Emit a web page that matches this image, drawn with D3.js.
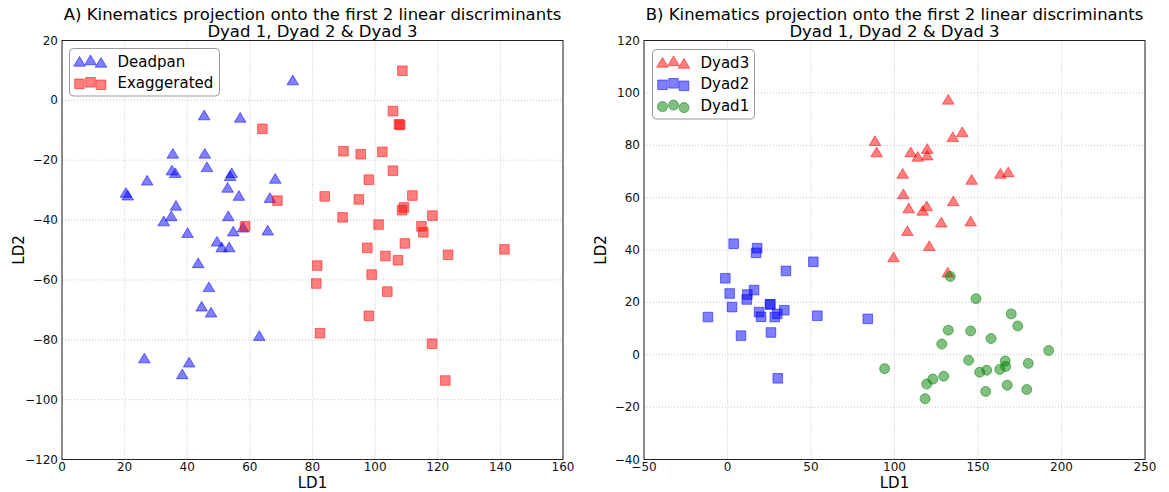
<!DOCTYPE html>
<html>
<head>
<meta charset="utf-8">
<script src="https://cdn.jsdelivr.net/npm/d3@7"></script>
<style>
  body { margin: 0; background: #fff; }
  svg { display: block; font-family: "DejaVu Sans", sans-serif; }
</style>
</head>
<body>
<svg id="chart" width="1169" height="492"></svg>
<script>
// Panel A: [LD1, LD2]
const deadpan = [
  [73.7, 6.6], [45.4, -5.1], [56.9, -5.9], [35.4, -17.9], [45.6, -17.9],
  [35.1, -23.5], [36.2, -24.4], [46.3, -22.4], [27.2, -26.9], [54.2, -24.4],
  [53.7, -25.4], [68.1, -26.3], [20.4, -31.0], [21.0, -31.9], [52.9, -29.3],
  [56.5, -32.0], [66.4, -32.7], [36.4, -35.3], [34.9, -38.8], [32.5, -40.5],
  [53.1, -38.8], [57.8, -42.6], [65.7, -43.6], [40.1, -44.4], [54.7, -43.9],
  [49.5, -47.3], [51.0, -49.2], [53.4, -49.2], [43.5, -54.5], [46.9, -62.5],
  [44.6, -69.0], [47.6, -71.0], [63.0, -78.8], [26.3, -86.3], [40.6, -87.7],
  [38.4, -91.6]
];
const exaggerated = [
  [108.7, 9.9], [105.7, -3.6], [107.6, -8.0], [108.0, -8.2], [89.9, -17.0],
  [95.4, -18.0], [102.3, -17.2], [105.7, -23.5], [98.0, -26.5], [83.9, -32.1],
  [94.8, -33.1], [111.9, -31.8], [109.2, -35.8], [108.6, -36.7], [118.3, -38.5],
  [89.6, -39.1], [101.1, -41.5], [114.8, -42.1], [115.4, -44.1], [64.0, -9.5],
  [68.8, -33.5], [58.5, -42.1], [109.5, -47.8], [97.5, -49.3], [103.3, -52.0],
  [107.3, -53.4], [123.3, -51.6], [141.3, -49.8], [81.5, -55.2], [98.9, -58.2],
  [81.2, -61.2], [103.9, -63.9], [98.0, -72.0], [82.4, -77.8], [118.2, -81.3],
  [122.4, -93.6]
];

// Panel B: [LD1, LD2]
const dyad3 = [
  [88.3, 81.5], [89.3, 77.2], [132.2, 97.3], [140.6, 84.9], [134.9, 83.0],
  [109.7, 77.2], [113.9, 75.5], [119.6, 78.5], [119.6, 76.0], [104.9, 69.0],
  [163.4, 69.0], [168.1, 69.6], [146.2, 66.7], [105.3, 61.2], [135.2, 58.5],
  [108.5, 55.8], [119.3, 56.6], [116.9, 54.9], [128.0, 50.4], [145.6, 50.8],
  [107.7, 47.1], [120.8, 41.4], [99.4, 37.1], [131.9, 31.3]
];
const dyad2 = [
  [3.7, 42.4], [17.1, 38.9], [17.8, 40.7], [51.4, 35.5], [35.0, 32.0],
  [-1.3, 29.2], [1.3, 23.4], [15.9, 24.7], [11.9, 23.0], [11.5, 21.1],
  [25.4, 19.2], [25.7, 19.3], [2.7, 18.2], [18.9, 16.3], [20.1, 14.5],
  [34.0, 17.0], [29.8, 15.6], [28.3, 14.4], [53.8, 14.9], [84.0, 13.7],
  [-11.7, 14.4], [8.1, 7.3], [26.0, 8.5], [30.1, -9.0]
];
const dyad1 = [
  [133.4, 29.9], [148.8, 21.4], [169.9, 15.6], [173.8, 11.0], [132.2, 9.4],
  [145.6, 9.1], [157.8, 6.2], [128.3, 4.1], [192.3, 1.6], [144.4, -2.1],
  [166.3, -2.4], [166.6, -4.5], [163.0, -5.6], [180.1, -3.3], [151.0, -6.7],
  [155.2, -5.9], [129.5, -8.2], [122.9, -9.3], [119.3, -11.2], [167.5, -11.6],
  [179.2, -13.3], [154.6, -14.0], [118.3, -16.8], [94.1, -5.3]
];

const xTicksA = [0, 20, 40, 60, 80, 100, 120, 140, 160];
const yTicksA = [20, 0, -20, -40, -60, -80, -100, -120];
const xTicksB = [-50, 0, 50, 100, 150, 200, 250];
const yTicksB = [120, 100, 80, 60, 40, 20, 0, -20, -40];

const svg = d3.select('#chart');
const plotTop = 40.5, plotBottom = 459.5;

// marker paths centred on 0,0
const triPath = 'M0,-5.5L5.8,4.2L-5.8,4.2Z';
const sqPath = 'M-4.8,-4.8H4.8V4.8H-4.8Z';
const circPath = 'M5,0A5,5 0 1,1 -5,0A5,5 0 1,1 5,0Z';

const fmt = d => (d < 0 ? '\u2212' + Math.abs(d) : String(d));

function drawPanel(opts) {
  const x = d3.scaleLinear().domain(opts.xDomain).range([opts.left, opts.right]);
  const y = d3.scaleLinear().domain(opts.yDomain).range([plotBottom, plotTop]);
  const g = svg.append('g');

  // grid
  g.append('g').selectAll('line').data(opts.xTicks).join('line')
    .attr('x1', d => x(d)).attr('x2', d => x(d))
    .attr('y1', plotTop).attr('y2', plotBottom)
    .style('stroke', '#b8b8b8').style('stroke-width', 0.8)
    .style('stroke-dasharray', '1,2');
  g.append('g').selectAll('line').data(opts.yTicks).join('line')
    .attr('y1', d => y(d)).attr('y2', d => y(d))
    .attr('x1', opts.left).attr('x2', opts.right)
    .style('stroke', '#b8b8b8').style('stroke-width', 0.8)
    .style('stroke-dasharray', '1,2');

  // tick labels
  g.append('g').selectAll('text').data(opts.xTicks).join('text')
    .attr('x', d => x(d)).attr('y', plotBottom + 11.5)
    .attr('text-anchor', 'middle')
    .style('font-size', '12px').style('fill', '#111')
    .text(fmt);
  g.append('g').selectAll('text').data(opts.yTicks).join('text')
    .attr('x', opts.left - 4).attr('y', d => y(d) + 4)
    .attr('text-anchor', 'end')
    .style('font-size', '12px').style('fill', '#111')
    .text(fmt);

  // points
  opts.series.forEach(s => {
    g.append('g').selectAll('path').data(s.data).join('path')
      .attr('transform', d => `translate(${x(d[0])},${y(d[1])})`)
      .attr('d', s.shape)
      .style('fill', s.color).style('fill-opacity', 0.5)
      .style('stroke', s.color).style('stroke-opacity', 0.5)
      .style('stroke-width', 1);
  });

  // frame
  g.append('rect')
    .attr('x', opts.left).attr('y', plotTop)
    .attr('width', opts.right - opts.left).attr('height', plotBottom - plotTop)
    .style('fill', 'none').style('stroke', '#222').style('stroke-width', 1);

  // titles and axis labels
  const cx = (opts.left + opts.right) / 2;
  g.append('text').attr('x', cx).attr('y', 20).attr('text-anchor', 'middle')
    .style('font-size', '16.5px').text(opts.title[0]);
  g.append('text').attr('x', cx).attr('y', 37).attr('text-anchor', 'middle')
    .style('font-size', '16.5px').text(opts.title[1]);
  g.append('text').attr('x', cx).attr('y', 488).attr('text-anchor', 'middle')
    .style('font-size', '15px').text('LD1');
  g.append('text')
    .attr('transform', `translate(${opts.left - 38},${(plotTop + plotBottom) / 2}) rotate(-90)`)
    .attr('text-anchor', 'middle')
    .style('font-size', '15px').text('LD2');

  // legend
  const lg = g.append('g');
  const L = opts.legend;
  lg.append('rect')
    .attr('x', L.x).attr('y', L.y).attr('width', L.w).attr('height', L.h)
    .attr('rx', 4)
    .style('fill', '#fff').style('stroke', '#999').style('stroke-width', 1);
  const offs = [[10, 0.5], [21, -1], [31.5, 1.5]];
  opts.series.slice().sort((a, b) => a.legendOrder - b.legendOrder).forEach((s, i) => {
    const ey = L.y + 13 + i * 21.8;
    offs.forEach(o => {
      lg.append('path')
        .attr('transform', `translate(${L.x + o[0]},${ey + o[1]})`)
        .attr('d', s.shape)
        .style('fill', s.color).style('fill-opacity', 0.5)
        .style('stroke', s.color).style('stroke-opacity', 0.5);
    });
    lg.append('text').attr('x', L.x + 48).attr('y', ey + 5)
      .style('font-size', '15px').text(s.name);
  });
}

drawPanel({
  left: 62, right: 563,
  xDomain: [0, 160], yDomain: [-120, 20],
  xTicks: xTicksA, yTicks: yTicksA,
  title: ['A) Kinematics projection onto the first 2 linear discriminants', 'Dyad 1, Dyad 2 & Dyad 3'],
  series: [
    { name: 'Deadpan', data: deadpan, shape: triPath, color: '#0000ff', legendOrder: 0 },
    { name: 'Exaggerated', data: exaggerated, shape: sqPath, color: '#ff0000', legendOrder: 1 }
  ],
  legend: { x: 69.5, y: 48.5, w: 150, h: 47.5 }
});

drawPanel({
  left: 644, right: 1145,
  xDomain: [-50, 250], yDomain: [-40, 120],
  xTicks: xTicksB, yTicks: yTicksB,
  title: ['B) Kinematics projection onto the first 2 linear discriminants', 'Dyad 1, Dyad 2 & Dyad 3'],
  series: [
    { name: 'Dyad3', data: dyad3, shape: triPath, color: '#ff0000', legendOrder: 0 },
    { name: 'Dyad2', data: dyad2, shape: sqPath, color: '#0000ff', legendOrder: 1 },
    { name: 'Dyad1', data: dyad1, shape: circPath, color: '#008000', legendOrder: 2 }
  ],
  legend: { x: 652.5, y: 49.5, w: 102, h: 69.5 }
});
</script>
</body>
</html>
